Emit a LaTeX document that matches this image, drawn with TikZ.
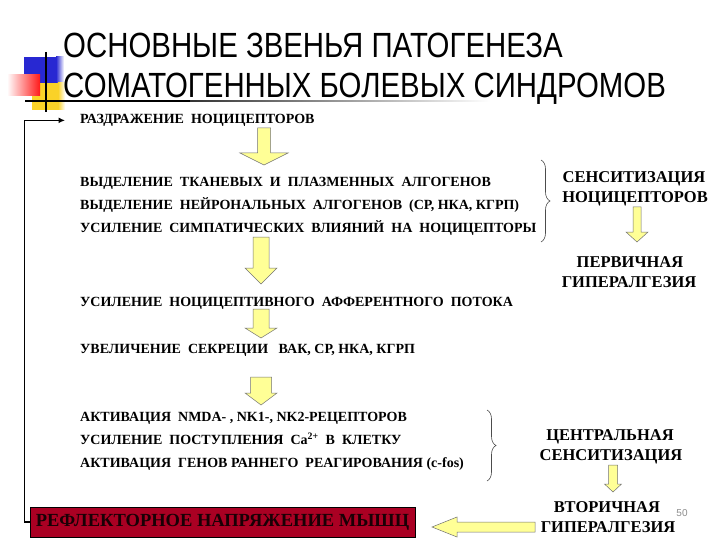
\documentclass[tikz,border=0pt]{standalone}
\usepackage{fontspec}
\setmainfont{Liberation Serif}
\newfontfamily\bodyfont{Liberation Serif}
\newfontfamily\titlefont[FakeStretch=0.84]{Liberation Sans}
\newfontfamily\numfont{Liberation Sans}
\usetikzlibrary{decorations.pathreplacing,arrows.meta}

\definecolor{arrowyellow}{RGB}{255,255,150}
\definecolor{reflexred}{RGB}{170,0,35}
\definecolor{reflexink}{RGB}{25,0,5}
\definecolor{slideblue}{RGB}{40,40,210}
\definecolor{slidegold}{RGB}{250,210,40}

\begin{document}
\begin{tikzpicture}[x=1pt,y=-1pt,
  steptext/.style={anchor=base west,inner sep=0pt,font=\bodyfont\fontsize{14}{16}\selectfont\bfseries},
  effect/.style={anchor=base,inner sep=0pt,font=\bodyfont\fontsize{16.5}{18}\selectfont\bfseries},
  fatarrow/.style={draw=black!55,line width=0.5pt,fill=arrowyellow},
  curly/.style={draw=black!70,line width=0.6pt,decorate,decoration={brace,amplitude=9pt}},
  feedback/.style={line width=1.6pt,-{Latex[length=2.2mm,width=2mm]}}]
  \useasboundingbox (0,0) rectangle (720,540);
  \fill[white] (0,0) rectangle (720,540);
  % decor near title
  \fill[slideblue] (24,57) rectangle (56,83);
  \shade[left color=slideblue,right color=white] (56,57) rectangle (64,83);
  \fill[slidegold] (32,83) rectangle (58,110);
  \shade[left color=slidegold,right color=white] (58,83) rectangle (65,110);
  \shade[left color=white,right color=red!90] (7,75) rectangle (40,96);
  \draw[line width=1.5pt] (46,52) -- (46,112);
  \draw[line width=1.5pt] (25,101) -- (190,101);
  \shade[left color=black!80,right color=white] (190,100.2) rectangle (490,101.8);
  % title
  \node[anchor=base west,inner sep=0pt,font=\titlefont\fontsize{35}{40}\selectfont] (title1) at (63,58) {ОСНОВНЫЕ ЗВЕНЬЯ ПАТОГЕНЕЗА};
  \node[anchor=base west,inner sep=0pt,font=\titlefont\fontsize{35}{40}\selectfont] (title2) at (63,98) {СОМАТОГЕННЫХ БОЛЕВЫХ СИНДРОМОВ};
  % chain of steps
  \node[steptext] (irritation) at (80,123.5) {РАЗДРАЖЕНИЕ~~НОЦИЦЕПТОРОВ};
  \node[steptext] (release1) at (80,186.5) {ВЫДЕЛЕНИЕ~~ТКАНЕВЫХ~~И~~ПЛАЗМЕННЫХ~~АЛГОГЕНОВ};
  \node[steptext] (release2) at (80,209.5) {ВЫДЕЛЕНИЕ~~НЕЙРОНАЛЬНЫХ~~АЛГОГЕНОВ~~(СР, НКА, КГРП)};
  \node[steptext] (sympath) at (80,232.5) {УСИЛЕНИЕ~~СИМПАТИЧЕСКИХ~~ВЛИЯНИЙ~~НА~~НОЦИЦЕПТОРЫ};
  \node[steptext] (afferent) at (80,306.5) {УСИЛЕНИЕ~~НОЦИЦЕПТИВНОГО~~АФФЕРЕНТНОГО~~ПОТОКА};
  \node[steptext] (secretion) at (80,353.5) {УВЕЛИЧЕНИЕ~~СЕКРЕЦИИ~~~ВАК, СР, НКА, КГРП};
  \node[steptext] (nmda) at (80,421.5) {АКТИВАЦИЯ~~NMDA- , NK1-, NK2-РЕЦЕПТОРОВ};
  \node[steptext] (calcium) at (80,444.5) {УСИЛЕНИЕ~~ПОСТУПЛЕНИЯ~~Ca\textsuperscript{2+}~~В~~КЛЕТКУ};
  \node[steptext] (genes) at (80,467.5) {АКТИВАЦИЯ~~ГЕНОВ~РАННЕГО~~РЕАГИРОВАНИЯ~(c-fos)};
  % effects on the right
  \node[effect] (sensnoci1) at (634,182.5) {СЕНСИТИЗАЦИЯ};
  \node[effect] (sensnoci2) at (635,202.5) {НОЦИЦЕПТОРОВ};
  \node[effect] (primhyp1) at (630,267.5) {ПЕРВИЧНАЯ};
  \node[effect] (primhyp2) at (629,287.5) {ГИПЕРАЛГЕЗИЯ};
  \node[effect] (centsens1) at (610,440.5) {ЦЕНТРАЛЬНАЯ};
  \node[effect] (centsens2) at (611,460.5) {СЕНСИТИЗАЦИЯ};
  \node[effect] (sechyp1) at (607,512.5) {ВТОРИЧНАЯ};
  \node[effect] (sechyp2) at (608,532.5) {ГИПЕРАЛГЕЗИЯ};
  \node[font=\numfont\fontsize{10}{12}\selectfont,text=black!45] (pagenum) at (682,513) {50};
  % braces
  \draw[curly] (541,160) -- (541,242);
  \draw[curly] (487,410) -- (487,481);
  % yellow arrows down
  \foreach \cx/\ytop/\yhead/\ytip/\sw/\hw in {264/128/153/165/6.5/24, 261/237/268/284/8/16,
      261/309/328/338/8/16, 261/377/393/405/10.5/16, 637/207/232/242/4/11, 613/465/484/492/4.5/8.5}
    \draw[fatarrow] ({\cx-\sw},\ytop) -- ({\cx+\sw},\ytop) -- ({\cx+\sw},\yhead) -- ({\cx+\hw},\yhead)
      -- (\cx,\ytip) -- ({\cx-\hw},\yhead) -- ({\cx-\sw},\yhead) -- cycle;
  % arrow to the left
  \draw[fatarrow] (535,522) -- (457,522) -- (457,517) -- (432,527) -- (457,537) -- (457,532) -- (535,532) -- cycle;
  % reflex box and feedback loop
  \node[draw=black,line width=0.8pt,fill=reflexred,text=reflexink,minimum width=385pt,minimum height=30pt,
    font=\bodyfont\fontsize{18.5}{20}\selectfont\bfseries] (reflex) at (222.5,522) {РЕФЛЕКТОРНОЕ НАПРЯЖЕНИЕ МЫШЦ};
  \draw[feedback,shorten >=15pt] (reflex.west) -- ++(-5,0) |- (irritation.west);
\end{tikzpicture}
\end{document}
